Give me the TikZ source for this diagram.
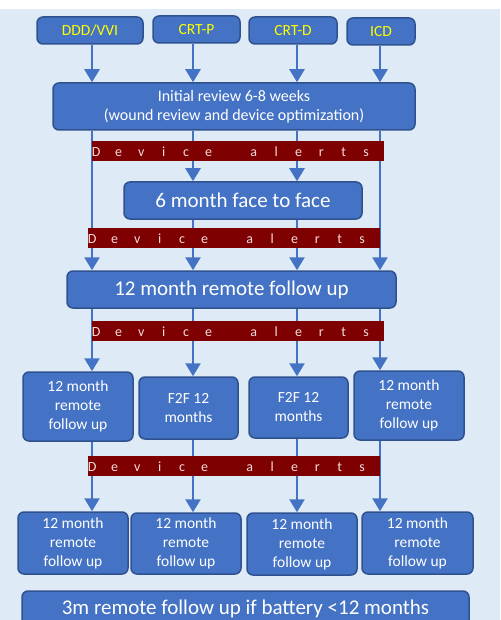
\documentclass[tikz,border=0pt]{standalone}
\usepackage{fontspec}
\setmainfont{Carlito}
\usetikzlibrary{arrows.meta}

\definecolor{paneblue}{HTML}{DEEBF7}
\definecolor{boxfill}{HTML}{4472C4}
\definecolor{boxedge}{HTML}{2F528F}
\definecolor{alertred}{HTML}{7F0000}
\definecolor{alertink}{RGB}{242,220,219}
\definecolor{devyellow}{RGB}{255,255,0}

\tikzset{
  box/.style={draw=boxedge,fill=boxfill,line width=1.5pt,rounded corners=6pt,
              text=white,align=center,inner sep=0pt,font=\fontsize{15.5}{19}\selectfont},
  bigbox/.style={box,font=\fontsize{21}{25}\selectfont},
  flow/.style={draw=boxfill,line width=2.5pt,-{Triangle[width=15pt,length=13pt]}},
  alertband/.style={fill=alertred,text=alertink,inner sep=0pt,minimum height=20pt,
              text width=292pt,align=left,anchor=north west,font=\fontsize{14}{16}\selectfont}
}
\newcommand\alertletters{\hspace*{-7.25pt}\foreach \ch in {D,e,v,i,c,e,{},a,l,e,r,t,s}{\makebox[22.5pt]{\ch}}}

\begin{document}
\begin{tikzpicture}[x=1pt,y=-1pt]
\useasboundingbox (0,0) rectangle (500,620);
\clip (0,0) rectangle (500,620);
\fill[white] (0,0) rectangle (500,9);
\fill[paneblue] (0,9) rectangle (500,620);

\coordinate (k1) at (92,0);
\coordinate (k2) at (193,0);
\coordinate (k3) at (297,0);
\coordinate (k4) at (380,0);

%% devices
\node[box,text=devyellow,minimum width=106,minimum height=27] (ddd) at (90,30.5) {DDD/VVI};
\node[box,text=devyellow,minimum width=87,minimum height=27] (crtp) at (196.5,29.5) {CRT-P};
\node[box,text=devyellow,minimum width=88,minimum height=27] (crtd) at (293,30.5) {CRT-D};
\node[box,text=devyellow,minimum width=68,minimum height=27] (icd) at (381,31.5) {ICD};

%% reviews
\node[box,font=\fontsize{16}{19}\selectfont,minimum width=362,minimum height=47] (init) at (234,106.5)
  {Initial review 6-8 weeks\\(wound review and device optimization)};
\node[bigbox,minimum width=238,minimum height=37] (six) at (243,200.5) {6 month face to face};
\node[bigbox,minimum width=329,minimum height=37] (rtw) at (231.5,289.5) {12 month remote follow up};

\node[box,minimum width=110,minimum height=69] (a3) at (78,406.5) {12 month\\remote\\follow up};
\node[box,minimum width=99,minimum height=62] (b3) at (188.5,408) {F2F 12\\months};
\node[box,minimum width=99,minimum height=61] (c3) at (298.5,407.5) {F2F 12\\months};
\node[box,minimum width=110,minimum height=69] (d3) at (409,405.5) {12 month\\remote\\follow up};

\node[box,minimum width=110,minimum height=62] (a4) at (73,543) {12 month\\remote\\follow up};
\node[box,minimum width=110,minimum height=61] (b4) at (186,543.5) {12 month\\remote\\follow up};
\node[box,minimum width=110,minimum height=62] (c4) at (302,544) {12 month\\remote\\follow up};
\node[box,minimum width=111,minimum height=62] (d4) at (417.5,543) {12 month\\remote\\follow up};

\node[bigbox,minimum width=447,minimum height=36] (last) at (245.5,609) {3m remote follow up if battery <12 months};

%% arrows
\foreach \k/\src in {k1/ddd,k2/crtp,k3/crtd,k4/icd}
  \draw[flow] (\src.south -| \k) -- (init.north -| \k);
\foreach \k in {k1,k4}
  \draw[flow] (init.south -| \k) -- (rtw.north -| \k);
\foreach \k in {k2,k3}
{
  \draw[flow] (init.south -| \k) -- (six.north -| \k);
  \draw[flow] (six.south -| \k) -- (rtw.north -| \k);
}
\foreach \k/\dst in {k1/a3,k2/b3,k3/c3,k4/d3}
  \draw[flow] (rtw.south -| \k) -- (\dst.north -| \k);
\foreach \k/\src/\dst in {k1/a3/a4,k2/b3/b4,k3/c3/c4,k4/d3/d4}
  \draw[flow] (\src.south -| \k) -- (\dst.north -| \k);

%% alert bands
\node[alertband] (al1) at (92,141) {\alertletters};
\node[alertband] (al2) at (88,228) {\alertletters};
\node[alertband] (al3) at (92,321) {\alertletters};
\node[alertband] (al4) at (88,456) {\alertletters};
\end{tikzpicture}
\end{document}
